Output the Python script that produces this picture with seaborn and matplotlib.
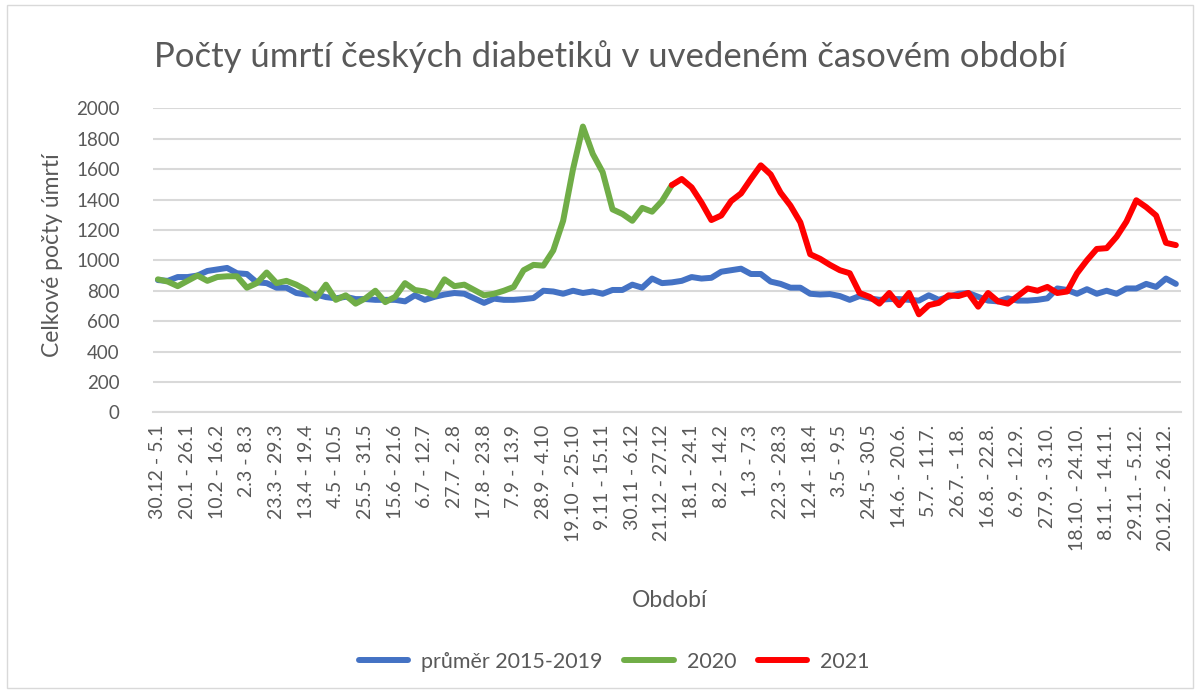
import numpy as np
import pandas as pd
import matplotlib
matplotlib.use("Agg")
import matplotlib.pyplot as plt
import seaborn as sns
from matplotlib.patches import Rectangle

# Popisky na ose x (kazdy treti tyden)
tick_labels = [
    "30.12 - 5.1", "20.1 - 26.1", "10.2 - 16.2", "2.3 - 8.3", "23.3 - 29.3",
    "13.4 - 19.4", "4.5 - 10.5", "25.5 - 31.5", "15.6 - 21.6", "6.7 - 12.7",
    "27.7 - 2.8", "17.8 - 23.8", "7.9 - 13.9", "28.9 - 4.10", "19.10 - 25.10",
    "9.11 - 15.11", "30.11 - 6.12", "21.12 - 27.12", "18.1 - 24.1", "8.2 - 14.2",
    "1.3 - 7.3", "22.3 - 28.3", "12.4 - 18.4", "3.5 - 9.5", "24.5 - 30.5",
    "14.6. - 20.6.", "5.7. - 11.7.", "26.7. - 1.8.", "16.8. - 22.8.", "6.9. - 12.9.",
    "27.9. - 3.10.", "18.10. - 24.10.", "8.11. - 14.11.", "29.11. - 5.12.", "20.12. - 26.12.",
]

# prumer 2015-2019 (pres oba roky)
prumer = [
    870, 865, 890, 890, 900, 930, 940, 950, 915, 910,
    855, 850, 820, 820, 785, 775, 775, 758, 750, 760,
    745, 745, 740, 740, 740, 730, 770, 740, 760, 775,
    785, 780, 750, 720, 748, 740, 740, 745, 752, 800,
    795, 780, 800, 785, 795, 780, 805, 805, 840, 820,
    880, 850, 855, 865, 890, 880, 885, 925, 935, 945,
    910, 910, 860, 845, 820, 820, 780, 775, 778, 765,
    740, 765, 750, 740, 745, 745, 740, 735, 770, 740,
    760, 780, 785, 760, 735, 730, 750, 735, 735, 740,
    750, 815, 805, 780, 810, 780, 800, 780, 815, 815,
    845, 825, 880, 845,
]

rok_2020 = [
    875, 860, 830, 865, 900, 865, 890, 895, 895, 820,
    850, 920, 850, 865, 840, 805, 750, 840, 740, 770,
    715, 750, 800, 725, 760, 850, 805, 795, 770, 875,
    830, 840, 805, 770, 780, 800, 825, 935, 970, 965,
    1065, 1260, 1600, 1880, 1700, 1580, 1335, 1305, 1260, 1345,
    1320, 1390, 1495,
]

rok_2021 = [
    1495, 1535, 1480, 1380, 1265, 1295, 1390, 1440, 1535, 1625,
    1565, 1445, 1360, 1250, 1040, 1010, 970, 935, 915, 785,
    760, 715, 785, 705, 785, 645, 705, 720, 770, 765,
    785, 695, 785, 730, 715, 765, 815, 800, 825, 785,
    795, 915, 1000, 1075, 1080, 1155, 1255, 1395, 1350, 1295,
    1115, 1100,
]

weeks = np.arange(len(prumer))
df = pd.concat([
    pd.DataFrame({"tyden": weeks, "pocet": prumer, "rada": "průměr 2015-2019"}),
    pd.DataFrame({"tyden": weeks[:len(rok_2020)], "pocet": rok_2020, "rada": "2020"}),
    pd.DataFrame({"tyden": weeks[-len(rok_2021):], "pocet": rok_2021, "rada": "2021"}),
])
barvy = {"průměr 2015-2019": "#4472C4", "2020": "#70AD47", "2021": "#FF0000"}

sns.set_style("white")
plt.rcParams["font.family"] = ["Lato", "DejaVu Sans"]
seda = "#595959"

fig = plt.figure(figsize=(12, 6.93), dpi=100)
ax = fig.add_axes([0.1275, 0.405, 0.8565, 0.4387])
sns.lineplot(data=df, x="tyden", y="pocet", hue="rada", palette=barvy,
             linewidth=4.3, sort=False, estimator=None, ax=ax, legend=True)

ax.set_xlim(-0.5, len(prumer) - 0.5)
ax.set_ylim(0, 2000)
ax.set_yticks(np.arange(0, 2001, 200))
ax.set_xticks(weeks[::3])
ax.set_xticklabels(tick_labels, rotation=90)
ax.tick_params(axis="x", length=0, pad=9, labelsize=14, labelcolor=seda)
ax.tick_params(axis="y", length=0, pad=24, labelsize=13.5, labelcolor=seda)
ax.yaxis.grid(True, color="#D9D9D9", linewidth=1.5)
ax.set_axisbelow(True)
for s in ["top", "right", "left"]:
    ax.spines[s].set_visible(False)
ax.spines["bottom"].set_color("#D9D9D9")
ax.spines["bottom"].set_linewidth(1.5)

ax.set_ylabel("Celkové počty úmrtí", fontsize=16.5, color=seda)
ax.yaxis.set_label_coords(-0.088, 0.517)
ax.set_xlabel("Období", fontsize=16.5, color=seda)
ax.xaxis.set_label_coords(0.503, -0.585)

fig.text(0.508, 0.918, "Počty úmrtí českých diabetiků v uvedeném časovém období",
         ha="center", va="center", fontsize=25, color=seda)

handles, labels = ax.get_legend_handles_labels()
ax.get_legend().remove()
fig.legend(handles, labels, loc="center", bbox_to_anchor=(0.512, 0.045), ncol=3,
           frameon=False, fontsize=15.5, handlelength=2.3, columnspacing=1.0,
           handletextpad=0.6, labelcolor=seda)

fig.patches.append(Rectangle((0.006, 0.007), 0.988, 0.986, transform=fig.transFigure,
                             fill=False, edgecolor="#D9D9D9", linewidth=1))

fig.savefig("out.png", dpi=100)
